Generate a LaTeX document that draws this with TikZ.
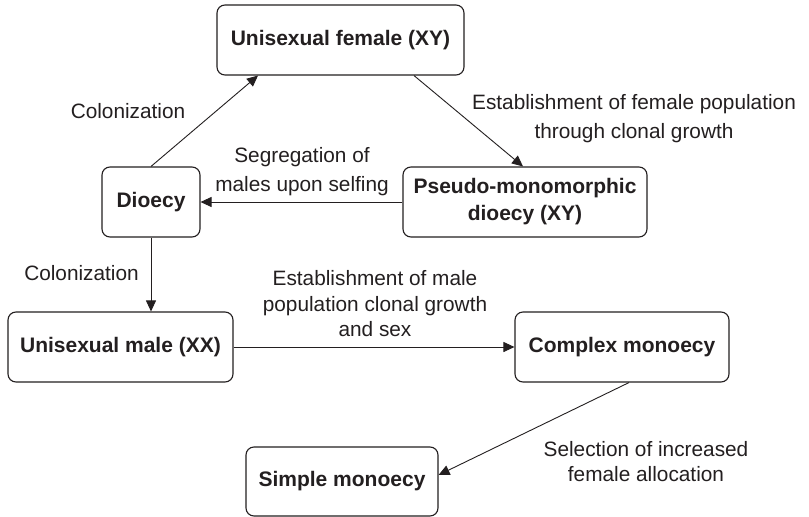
\documentclass[tikz,border=0pt]{standalone}
\usepackage{fontspec}
\setmainfont{Liberation Sans}
\usetikzlibrary{arrows.meta}
\definecolor{ink}{RGB}{35,31,32}
\begin{document}
\begin{tikzpicture}[x=1pt,y=-1pt,
  stage/.style={draw=ink, line width=1.1pt, rounded corners=8pt, inner sep=0pt,
    font=\fontsize{21}{27}\selectfont\bfseries, text=ink, align=center,
    minimum height=70pt},
  lbl/.style={font=\fontsize{20.8}{25}\selectfont, text=ink, align=center, inner sep=0pt},
  widelbl/.style={lbl, font=\fontsize{20.8}{28.5}\selectfont},
  flow/.style={draw=ink, line width=0.9pt, -{Triangle[length=11pt,width=10pt]}}]
\fill[white] (0,0) rectangle (809,517);
\useasboundingbox (0,0) rectangle (809,517);

% stages
\node[stage, minimum width=247pt] (fem) at (340.5,40) {Unisexual female (XY)};
\node[stage, minimum width=98pt] (dio) at (151,202) {Dioecy};
\node[stage, minimum width=244pt] (pseudo) at (525,202) {Pseudo-monomorphic\\dioecy (XY)};
\node[stage, minimum width=225pt] (male) at (120.5,347) {Unisexual male (XX)};
\node[stage, minimum width=214pt] (cplx) at (622,347) {Complex monoecy};
\node[stage, minimum width=192pt, minimum height=69pt] (smpl) at (342,481.5) {Simple monoecy};

% transitions
\draw[flow] (dio.north) -- ([xshift=-82.5pt]fem.south);
\draw[flow] ([xshift=73.5pt]fem.south) -- ([xshift=-2pt]pseudo.north);
\draw[flow] (pseudo.west) -- (dio.east);
\draw[flow] (dio.south) -- (dio.south |- male.north);
\draw[flow] (male.east) -- (cplx.west);
\draw[flow] ([xshift=7pt]cplx.south) -- ([yshift=6.5pt]smpl.east);

% transition labels
\node[lbl, anchor=base] (col1) at (128,118) {Colonization};
\node[widelbl, anchor=north] (femlbl) at (634,89.5)
  {\strut Establishment of female population\\\strut through clonal growth};
\node[widelbl, anchor=north] (seg) at (302,142.7)
  {\strut Segregation of\\\strut males upon selfing};
\node[lbl, anchor=base] (col2) at (81.5,280) {Colonization};
\node[lbl, font=\fontsize{20.8}{25.5}\selectfont, anchor=north] (malelbl) at (375,267.8)
  {\strut Establishment of male\\\strut population clonal growth\\\strut and sex};
\node[lbl, anchor=north] (sellbl) at (646,439.2)
  {\strut Selection of increased\\\strut female allocation};
\end{tikzpicture}
\end{document}
